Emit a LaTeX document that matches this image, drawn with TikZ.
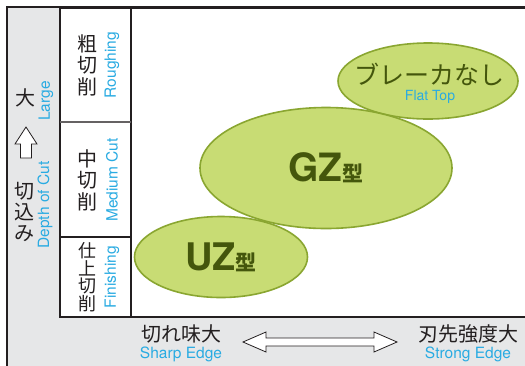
\documentclass[tikz,border=0pt]{standalone}
\usepackage{fontspec}
\setmainfont{TeX Gyre Heros}
\newfontfamily\jp{Noto Sans CJK JP}
\usetikzlibrary{shapes.geometric}
\definecolor{bggray}{HTML}{E6E7E8}
\definecolor{ink}{HTML}{231F20}
\definecolor{cyantext}{HTML}{29ABE2}
\definecolor{ellfill}{HTML}{C8DC74}
\definecolor{ellline}{HTML}{8AA631}
\definecolor{olive}{HTML}{44560C}
\tikzset{
  jpv/.style={align=center, inner sep=0pt, text=ink, font=\jp\fontsize{20}{21.5}\selectfont},
  jph/.style={inner sep=0pt, text=ink, font=\jp\fontsize{20}{22}\selectfont},
  entext/.style={inner sep=0pt, text=cyantext, font=\fontsize{15.5}{17}\selectfont},
  envert/.style={entext, rotate=90},
  zone/.style={ellipse, draw=ellline, line width=1.6pt, fill=ellfill, inner sep=0pt, text=olive, align=center},
  outlinearrow/.style={draw=ink, fill=white, line width=0.8pt, line join=miter},
}
\begin{document}
\begin{tikzpicture}[x=1pt,y=-1pt]
\useasboundingbox (0,0) rectangle (525,365);
\clip (0,0) rectangle (525,365);
% background frame
\fill[bggray] (7,7) rectangle (540,380);
\draw[ink, line width=2.4pt] (7,380) -- (7,7) -- (540,7);
% chart area
\draw[ink, fill=white, line width=2pt] (60,8) rectangle (540,317);
\draw[ink, line width=2pt] (131,8) -- (131,317);
\draw[ink!70, line width=1.4pt] (60,122) -- (131,122);
\draw[ink, line width=1.6pt] (60,237) -- (131,237);
% left axis
\node[jph] (large) at (25,98) {大};
\node[envert] (largeen) at (46,101) {Large};
\draw[outlinearrow] (26,127) -- (37,144) -- (31.5,144) -- (31.5,158) -- (20.5,158)
  -- (20.5,144) -- (15,144) -- cycle;
\node[jpv, font=\jp\fontsize{20}{21}\selectfont] (depth) at (24,212) {切\\込\\み};
\node[envert] (depthen) at (45,205) {Depth of Cut};
% row labels
\node[jpv] (rough) at (87,65) {粗\\切\\削};
\node[envert] (roughen) at (112,65) {Roughing};
\node[jpv] (medium) at (87,180) {中\\切\\削};
\node[envert] (mediumen) at (112,180) {Medium Cut};
\node[jpv, font=\jp\fontsize{18}{17.5}\selectfont] (finish) at (87,277) {仕\\上\\切\\削};
\node[envert] (finishen) at (112,277) {Finishing};
% zones
\node[zone, minimum width=180pt, minimum height=76pt] (flat) at (428,81) {};
\node[inner sep=0pt, text=olive, font=\jp\fontsize{25}{26}\selectfont] (flatjp) at (429,74) {ブレーカなし};
\node[entext, font=\fontsize{14}{15}\selectfont] (flaten) at (430,97) {Flat Top};
\node[zone, minimum width=252pt, minimum height=121pt] (gz) at (326,168)
  {{\fontsize{39}{40}\selectfont\bfseries GZ}{\jp\bfseries\fontsize{21}{22}\selectfont 型}};
\node[zone, minimum width=173pt, minimum height=81pt] (uz) at (221,257)
  {{\fontsize{38}{40}\selectfont\bfseries UZ}{\jp\bfseries\fontsize{21}{22}\selectfont 型}};
% bottom axis
\node[jph] (sharp) at (181,334) {切れ味大};
\node[entext] (sharpen) at (181,354) {Sharp Edge};
\node[jph] (strong) at (468,334) {刃先強度大};
\node[entext] (strongen) at (468,354) {Strong Edge};
\draw[outlinearrow] (243,342) -- (266,332) -- (266,338) -- (374,338) -- (374,332)
  -- (397,342) -- (374,352) -- (374,346) -- (266,346) -- (266,352) -- cycle;
\end{tikzpicture}
\end{document}
